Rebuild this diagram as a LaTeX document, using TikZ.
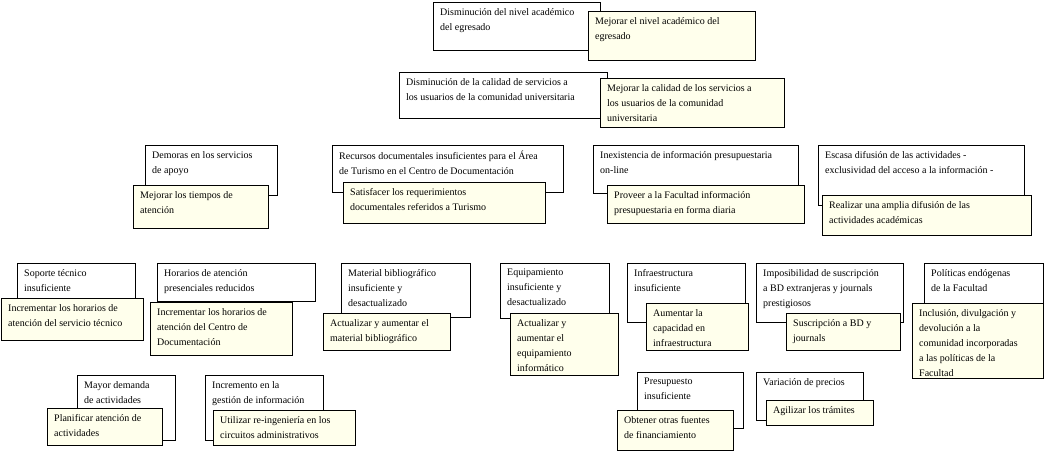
\documentclass[tikz,border=0pt]{standalone}
\usepackage{fontspec}
\setmainfont{Liberation Serif}
\definecolor{cream}{RGB}{255,255,236}
\tikzset{
  prob/.style={draw=black, line width=1pt, fill=white, inner sep=0pt, outer sep=0pt},
  obj/.style={draw=black, line width=1pt, fill=cream, inner sep=0pt, outer sep=0pt},
  txt/.style={inner sep=0pt, align=left, font=\fontsize{10}{15}\selectfont}
}
\newcommand\mybox[7]{%
  \node[#6, anchor=north west, minimum width={#4-#2}, minimum height={#5-#3}] (#1) at (#2,#3) {};
  \node[txt, anchor=north west] (#1t) at ([xshift=7pt,yshift=-6pt]#1.north west) {#7};
}
\begin{document}
\begin{tikzpicture}[x=1pt,y=-1pt]
\useasboundingbox (0,0) rectangle (1044,451);
% top
\mybox{p1}{433}{2}{600}{50}{prob}{Disminución del nivel académico\\del egresado}
\mybox{o1}{588}{11}{755}{60}{obj}{Mejorar el nivel académico del\\egresado}
\mybox{p2}{399}{72}{607}{118}{prob}{Disminución de la calidad de servicios a\\los usuarios de la comunidad universitaria}
\mybox{o2}{600}{78}{784}{127}{obj}{Mejorar la calidad de los servicios a\\los usuarios de la comunidad\\universitaria}
% row 2
\mybox{p3}{145}{145}{277}{195}{prob}{Demoras en los servicios\\de apoyo}
\mybox{o3}{133}{185}{268}{228}{obj}{Mejorar los tiempos de\\atención}
\mybox{p4}{332}{145}{563}{192}{prob}{Recursos documentales insuficientes para el Área\\de Turismo en el Centro de Documentación}
\mybox{o4}{343}{182}{545}{223}{obj}{Satisfacer los requerimientos\\documentales referidos a Turismo}
\mybox{p5}{593}{145}{798}{193}{prob}{Inexistencia de información presupuestaria\\on-line}
\mybox{o5}{607}{185}{804}{223}{obj}{Proveer a la Facultad información\\presupuestaria en forma diaria}
\mybox{p6}{818}{145}{1024}{205}{prob}{Escasa difusión de las actividades -\\exclusividad del acceso a la información -}
\mybox{o6}{822}{195}{1031}{235}{obj}{Realizar una amplia difusión de las\\actividades académicas}
% row 3
\mybox{p7}{17}{263}{135}{303}{prob}{Soporte técnico\\insuficiente}
\mybox{o7}{1}{298}{143}{340}{obj}{Incrementar los horarios de\\atención del servicio técnico}
\mybox{p8}{157}{263}{315}{301}{prob}{Horarios de atención\\presenciales reducidos}
\mybox{o8}{150}{302}{292}{355}{obj}{Incrementar los horarios de\\atención del Centro de\\Documentación}
\mybox{p9}{341}{263}{470}{317}{prob}{Material bibliográfico\\insuficiente y\\desactualizado}
\mybox{o9}{323}{313}{450}{350}{obj}{Actualizar y aumentar el\\material bibliográfico}
\mybox{p10}{500}{263}{609}{318}{prob}{Equipamiento\\insuficiente y\\desactualizado}
\mybox{o10}{510}{313}{618}{375}{obj}{Actualizar y\\aumentar el\\equipamiento\\informático}
\mybox{p11}{627}{263}{745}{322}{prob}{Infraestructura\\insuficiente}
\mybox{o11}{646}{303}{748}{350}{obj}{Aumentar la\\capacidad en\\infraestructura}
\mybox{p12}{756}{263}{903}{322}{prob}{Imposibilidad de suscripción\\a BD extranjeras y journals\\prestigiosos}
\mybox{o12}{786}{313}{900}{350}{obj}{Suscripción a BD y\\journals}
\mybox{p13}{924}{263}{1043}{308}{prob}{Políticas endógenas\\de la Facultad}
\mybox{o13}{912}{303}{1043}{378}{obj}{Inclusión, divulgación y\\devolución a la\\comunidad incorporadas\\a las políticas de la\\Facultad}
% row 4
\mybox{p14}{77}{375}{175}{440}{prob}{Mayor demanda\\de actividades}
\mybox{o14}{47}{408}{162}{445}{obj}{Planificar atención de\\actividades}
\mybox{p15}{205}{375}{323}{440}{prob}{Incremento en la\\gestión de información}
\mybox{o15}{213}{410}{355}{445}{obj}{Utilizar re-ingeniería en los\\circuitos administrativos}
\mybox{p16}{637}{372}{743}{428}{prob}{Presupuesto\\insuficiente}
\mybox{o16}{617}{410}{733}{450}{obj}{Obtener otras fuentes\\de financiamiento}
\mybox{p17}{756}{372}{863}{420}{prob}{Variación de precios}
\mybox{o17}{766}{400}{873}{425}{obj}{Agilizar los trámites}
\end{tikzpicture}
\end{document}
